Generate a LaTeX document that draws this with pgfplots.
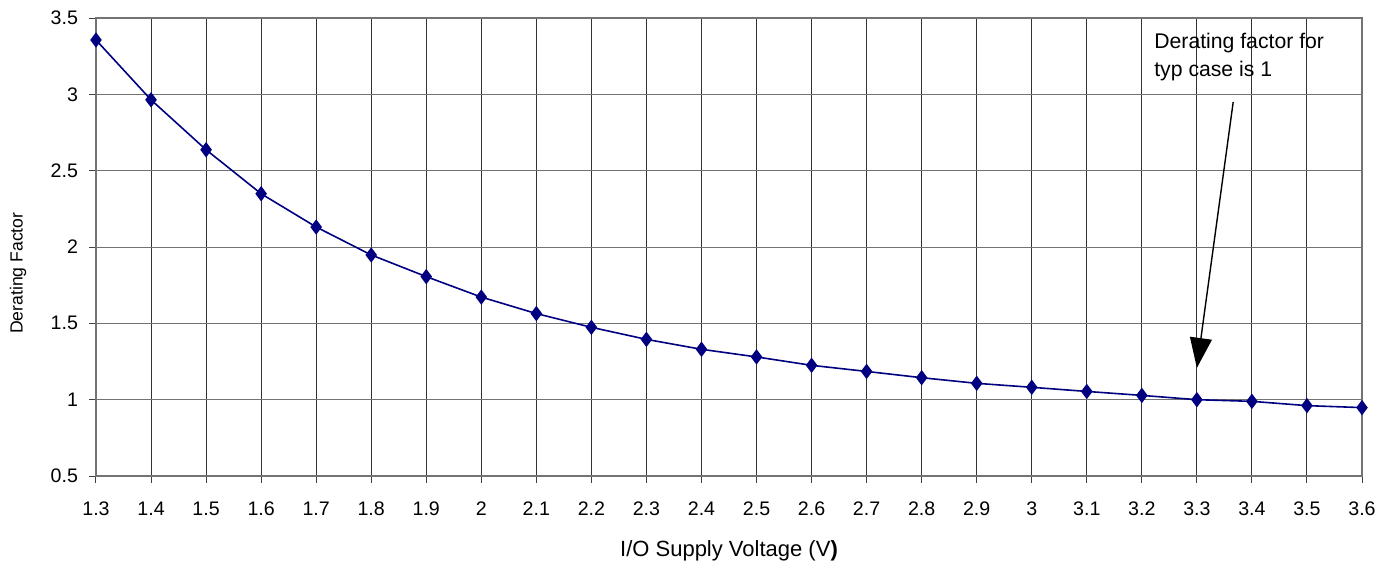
\documentclass[border=0pt]{standalone}
\usepackage{fontspec}
\setmainfont{Liberation Sans}
\usepackage{pgfplots}
\pgfplotsset{compat=1.18}
\usetikzlibrary{arrows.meta}
\definecolor{navyc}{RGB}{0,0,128}
\begin{document}
\begin{tikzpicture}
\useasboundingbox (-48pt,-46.5pt) rectangle (650pt,238pt);
\begin{axis}[
  at={(0pt,0pt)}, anchor=south west,
  scale only axis, width=633pt, height=229pt,
  xmin=1.3, xmax=3.6, ymin=0.5, ymax=3.5,
  xtick={1.3,1.4,1.5,1.6,1.7,1.8,1.9,2,2.1,2.2,2.3,2.4,2.5,2.6,2.7,2.8,2.9,3,3.1,3.2,3.3,3.4,3.5,3.6},
  xticklabels={1.3,1.4,1.5,1.6,1.7,1.8,1.9,2,2.1,2.2,2.3,2.4,2.5,2.6,2.7,2.8,2.9,3,3.1,3.2,3.3,3.4,3.5,3.6},
  ytick={0.5,1,1.5,2,2.5,3,3.5},
  yticklabels={0.5,1,1.5,2,2.5,3,3.5},
  tick align=outside, major tick length=3.5pt,
  tick style={black!75, line width=0.5pt},
  xtick pos=bottom, ytick pos=left,
  grid=major,
  x grid style={black!80, line width=0.5pt},
  y grid style={black!55, line width=0.5pt},
  axis line style={black!55, line width=0.6pt},
  /pgf/number format/assume math mode=true,
  ticklabel style={font=\fontsize{9.8pt}{11pt}\selectfont},
  xticklabel style={anchor=north, text height=7pt, text depth=0pt, yshift=-5.5pt},
  yticklabel style={xshift=-2pt},
  xlabel={I/O Supply Voltage (V\textbf{)}},
  ylabel={Derating Factor},
  xlabel style={font=\fontsize{11pt}{13pt}\selectfont, at={(axis description cs:0.5,0)}, anchor=center, yshift=-37.5pt},
  ylabel style={font=\fontsize{8.8pt}{11pt}\selectfont, at={(axis description cs:-0.0616,0.443)}, anchor=center, rotate=0},
  clip=false,
]
\addplot[navyc, line width=0.8pt, mark=diamond*, mark size=3.2pt, mark options={fill=navyc, draw=navyc}] coordinates {
(1.3,3.356) (1.4,2.964) (1.5,2.637) (1.6,2.349) (1.7,2.131) (1.8,1.948)
(1.9,1.806) (2.0,1.672) (2.1,1.564) (2.2,1.474) (2.3,1.395) (2.4,1.330)
(2.5,1.280) (2.6,1.225) (2.7,1.185) (2.8,1.144) (2.9,1.107) (3.0,1.081)
(3.1,1.054) (3.2,1.028) (3.3,1.000) (3.4,0.989) (3.5,0.961) (3.6,0.948)
};
\draw[black, line width=0.7pt, -{Triangle[width=11pt,length=15pt]}] (axis cs:3.366,2.95) -- (axis cs:3.3,1.208);
\node[anchor=west, inner sep=0pt, align=left, font=\fontsize{10.6pt}{14pt}\selectfont] at (axis cs:3.222,3.245) {Derating factor for\\typ case is 1};
\end{axis}
\end{tikzpicture}
\end{document}
